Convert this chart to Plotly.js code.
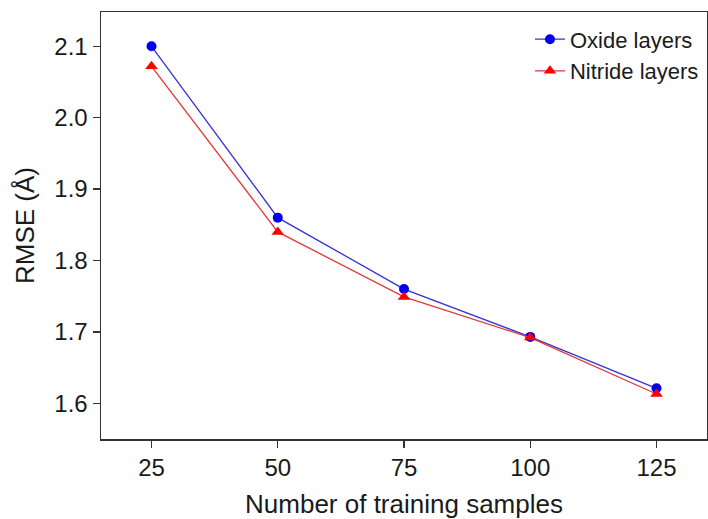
<!DOCTYPE html>
<html>
<head>
<meta charset="utf-8">
<script src="https://cdn.plot.ly/plotly-3.0.1.min.js"></script>
<style>html,body{margin:0;padding:0;background:#fff;}#chart{width:708px;height:519px;}</style>
</head>
<body>
<div id="chart"></div>
<script>
const samples = [25, 50, 75, 100, 125];
const oxide = [2.100, 1.860, 1.760, 1.693, 1.621];
const nitride = [2.072, 1.840, 1.749, 1.692, 1.613];
const xTicks = [25, 50, 75, 100, 125];
const yTicks = [1.6, 1.7, 1.8, 1.9, 2.0, 2.1];

const font = "Liberation Sans, Arial, sans-serif";
const traces = [
  {x: samples, y: oxide, name: "Oxide layers", type: "scatter", mode: "lines+markers",
   line: {color: "#3333d6", width: 1.3}, marker: {color: "#0000ee", symbol: "circle", size: 10}},
  {x: samples, y: nitride, name: "Nitride layers", type: "scatter", mode: "lines+markers",
   line: {color: "#e03838", width: 1.3}, marker: {color: "#ff0000", symbol: "triangle-up", size: 11}}
];
const layout = {
  width: 708, height: 519,
  margin: {l: 101, r: 1, t: 12, b: 80},
  paper_bgcolor: "#fff", plot_bgcolor: "#fff",
  font: {family: font, color: "#1a1a1a"},
  showlegend: true,
  legend: {x: 0.995, y: 0.985, xanchor: "right", yanchor: "top", font: {size: 22, family: font, color: "#1a1a1a"},
           bgcolor: "rgba(0,0,0,0)", tracegroupgap: 0},
  xaxis: {range: [15, 135], tickvals: xTicks, ticktext: xTicks.map(String), ticks: "outside", ticklen: 7,
          tickcolor: "#333", tickwidth: 1.3, showline: true, linecolor: "#333", linewidth: 1.5, mirror: true,
          showgrid: false, zeroline: false, tickfont: {size: 24, family: font, color: "#1a1a1a"},
          title: {text: "Number of training samples", font: {size: 26, family: font, color: "#1a1a1a"}, standoff: 16}},
  yaxis: {range: [1.55, 2.148], tickvals: yTicks, ticktext: yTicks.map(v => v.toFixed(1)), ticks: "outside", ticklen: 7,
          tickcolor: "#333", tickwidth: 1.3, showline: true, linecolor: "#333", linewidth: 1.5, mirror: true,
          showgrid: false, zeroline: false, tickfont: {size: 24, family: font, color: "#1a1a1a"},
          title: {text: "RMSE (Å)", font: {size: 26, family: font, color: "#1a1a1a"}, standoff: 12}}
};
Plotly.newPlot("chart", traces, layout, {displayModeBar: false, staticPlot: true});
</script>
</body>
</html>
